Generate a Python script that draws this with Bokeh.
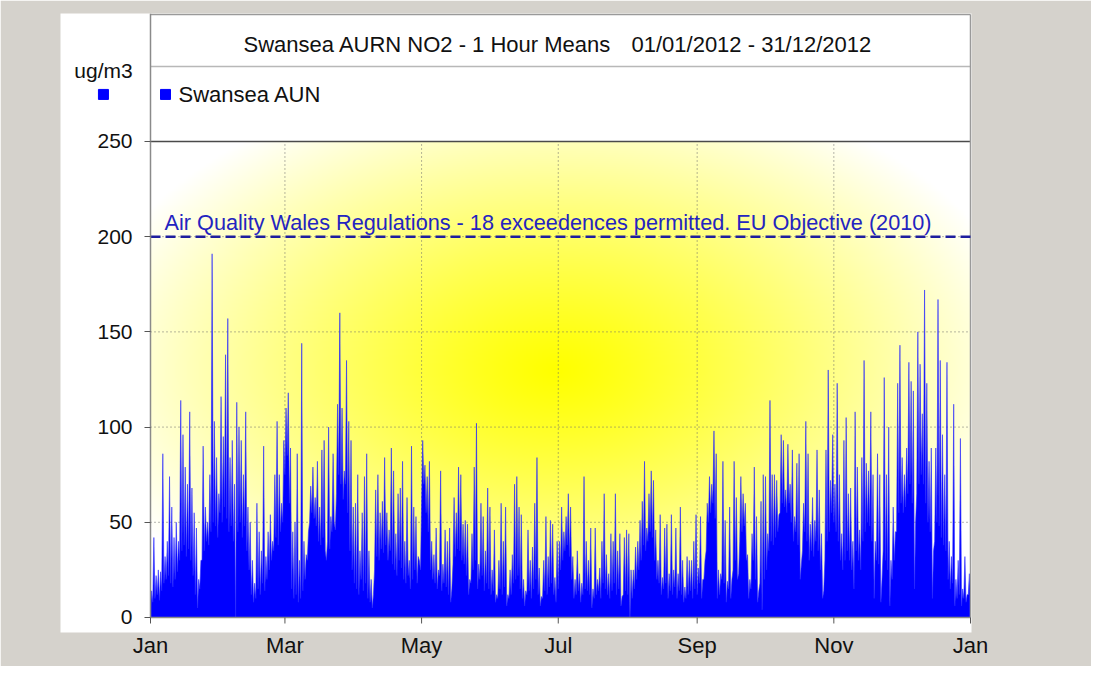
import numpy as np
from datetime import datetime, timezone
from bokeh.plotting import figure
from bokeh.models import Range1d, FixedTicker, DatetimeTickFormatter, Label, BoxAnnotation
from bokeh.embed import file_html
from bokeh.resources import INLINE

# ---------------- data ----------------
TITLE_LEFT = "Swansea AURN NO2 - 1 Hour Means"
TITLE_RIGHT = "01/01/2012 - 31/12/2012"
UNITS = "ug/m3"
SERIES_NAME = "Swansea AUN"
LIMIT_VALUE = 200
LIMIT_TEXT = "Air Quality Wales Regulations - 18 exceedences permitted. EU Objective (2010)"
Y_TICKS = [0, 50, 100, 150, 200, 250]
X_TICK_MONTHS = [(2012, 1), (2012, 3), (2012, 5), (2012, 7), (2012, 9), (2012, 11), (2013, 1)]

# daily peak hourly values (ug/m3), per month
peak_jan = [14, 42, 22, 25, 24, 86, 32, 40, 74, 58, 42, 50, 40, 114, 96, 79, 70, 108, 68, 55, 47, 20, 30, 90, 58, 50, 75, 191, 103, 84, 65]
peak_feb = [116, 95, 138, 157, 84, 93, 70, 113, 100, 93, 75, 108, 58, 50, 30, 18, 60, 45, 35, 90, 32, 45, 54, 40, 75, 103, 75, 60, 93]
peak_mar = [110, 118, 89, 45, 50, 86, 30, 144, 40, 33, 45, 69, 79, 63, 82, 58, 88, 93, 30, 100, 53, 86, 46, 112, 160, 110, 77, 135, 103, 93, 58]
peak_apr = [60, 75, 35, 55, 74, 86, 35, 20, 12, 67, 75, 55, 61, 84, 55, 46, 89, 77, 44, 65, 68, 82, 40, 63, 30, 90, 58, 53, 32, 25]
peak_may = [93, 80, 74, 82, 40, 33, 47, 25, 77, 28, 46, 40, 47, 15, 63, 55, 79, 75, 49, 51, 49, 20, 44, 79, 102, 28, 60, 53, 35, 68, 58]
peak_jun = [25, 46, 12, 30, 60, 40, 58, 12, 25, 33, 70, 74, 58, 54, 20, 14, 46, 30, 37, 60, 84, 26, 11, 30, 53, 32, 51, 49, 21, 40]
peak_jul = [40, 58, 45, 53, 65, 58, 32, 20, 35, 23, 18, 74, 40, 30, 47, 15, 47, 20, 26, 40, 65, 33, 23, 44, 40, 65, 35, 44, 11, 42, 46]
peak_aug = [44, 25, 25, 37, 40, 51, 61, 82, 47, 65, 77, 72, 46, 30, 54, 21, 47, 49, 23, 54, 25, 47, 23, 58, 30, 16, 32, 30, 30, 40, 54]
peak_sep = [26, 53, 20, 30, 60, 74, 70, 98, 86, 25, 23, 82, 51, 19, 58, 20, 82, 63, 23, 74, 65, 60, 33, 20, 44, 79, 53, 14, 61, 75]
peak_oct = [74, 44, 114, 75, 75, 72, 54, 96, 93, 67, 91, 70, 88, 53, 81, 86, 28, 60, 103, 86, 49, 63, 51, 88, 67, 44, 14, 88, 130, 72, 96]
peak_nov = [70, 123, 75, 44, 93, 105, 65, 68, 40, 108, 79, 46, 84, 135, 81, 77, 108, 75, 40, 86, 75, 20, 126, 75, 100, 30, 58, 45, 123, 143]
peak_dec = [84, 75, 89, 134, 124, 119, 50, 150, 133, 107, 172, 123, 82, 89, 35, 89, 167, 135, 96, 75, 134, 40, 32, 112, 20, 30, 94, 15, 32, 12, 23]

# daily low hourly values (ug/m3), per month
low_jan = [5, 8, 10, 12, 9, 14, 18, 20, 22, 18, 16, 20, 24, 30, 35, 38, 32, 36, 30, 22, 12, 5, 15, 30, 35, 40, 38, 45, 50, 48, 42]
low_feb = [55, 50, 58, 52, 45, 48, 40, 0, 45, 50, 42, 48, 35, 25, 12, 8, 10, 15, 12, 18, 14, 20, 25, 30, 35, 42, 38, 45, 50]
low_mar = [75, 85, 60, 15, 10, 12, 8, 10, 14, 20, 30, 50, 55, 52, 48, 40, 38, 42, 35, 40, 36, 45, 50, 65, 75, 70, 62, 70, 55, 35, 25]
low_apr = [18, 15, 12, 20, 14, 18, 10, 8, 5, 25, 32, 30, 36, 34, 38, 30, 35, 28, 25, 22, 30, 26, 20, 18, 22, 15, 20, 25, 18, 30]
low_may = [60, 70, 55, 45, 25, 20, 18, 15, 22, 14, 18, 16, 12, 8, 28, 32, 36, 35, 30, 28, 22, 12, 18, 25, 30, 15, 20, 22, 14, 18, 15]
low_jun = [12, 14, 8, 10, 15, 12, 16, 6, 10, 12, 18, 20, 22, 15, 10, 6, 12, 14, 10, 15, 20, 12, 6, 10, 14, 12, 16, 18, 12, 8]
low_jul = [15, 25, 30, 35, 38, 32, 20, 10, 12, 14, 8, 12, 15, 14, 12, 5, 10, 12, 14, 10, 18, 15, 12, 10, 14, 18, 12, 15, 6, 12, 14]
low_aug = [12, 0, 10, 15, 20, 25, 30, 38, 35, 40, 45, 42, 30, 20, 18, 12, 15, 18, 10, 14, 12, 16, 10, 14, 12, 8, 10, 12, 14, 10, 15]
low_sep = [12, 18, 10, 20, 35, 50, 55, 60, 52, 10, 12, 20, 18, 8, 15, 10, 25, 30, 20, 40, 45, 48, 30, 10, 15, 30, 20, 8, 18, 4]
low_oct = [20, 25, 35, 40, 38, 42, 45, 55, 60, 58, 55, 60, 50, 40, 45, 38, 20, 35, 45, 40, 30, 35, 32, 40, 35, 25, 10, 30, 40, 45, 55]
low_nov = [50, 45, 40, 30, 25, 30, 35, 30, 25, 15, 35, 30, 25, 40, 45, 50, 48, 40, 10, 30, 28, 8, 35, 30, 25, 6, 20, 30, 45, 55]
low_dec = [60, 55, 58, 65, 70, 60, 15, 65, 70, 75, 70, 60, 50, 45, 10, 40, 50, 48, 42, 38, 35, 20, 15, 18, 6, 10, 12, 6, 10, 8, 12]

peaks = (peak_jan + peak_feb + peak_mar + peak_apr + peak_may + peak_jun +
         peak_jul + peak_aug + peak_sep + peak_oct + peak_nov + peak_dec)
lows = (low_jan + low_feb + low_mar + low_apr + low_may + low_jun +
        low_jul + low_aug + low_sep + low_oct + low_nov + low_dec)

# ---------------- build ----------------
DAY = 86400000.0
PXV = 476.0 / 250.0            # pixels per ug/m3


def ms(y, m, d=1):
    return datetime(y, m, d, tzinfo=timezone.utc).timestamp() * 1000.0


T0 = ms(2012, 1, 1)
T1 = ms(2013, 1, 1)
PXD = 820.0 / 366.0            # pixels per day in the plot area
X_START = T0 - (90.0 / PXD) * DAY   # frame starts 90px left of Jan 1 (room for unit label)
X_END = T1 + (1.0 / PXD) * DAY
Y_TOP = 317.2                  # top of the white panel (title + legend boxes)
Y_BOT = -15.0 / PXV            # a little room below zero for the "0" tick label
PANEL_TOP = 316.7

n = min(len(peaks), len(lows))
xs, ys = [], []
for d in range(n):
    xs += [T0 + d * DAY, T0 + (d + 0.5) * DAY]
    ys += [lows[d], peaks[d]]
xs.append(T0 + n * DAY)
ys.append(lows[n - 1])

FONT = "Liberation Sans"
GREY_BG = "#d5d2cc"
BORDER = "#9a9a9a"
AXIS_GREY = "#8a8a8a"

p = figure(width=1091, height=666, x_axis_type="datetime",
           output_backend="svg", toolbar_location=None,
           x_range=Range1d(X_START, X_END), y_range=Range1d(Y_BOT, Y_TOP),
           min_border_left=60, min_border_right=120,
           min_border_top=13, min_border_bottom=34,
           background_fill_color=None, border_fill_color=GREY_BG,
           outline_line_color=None)

# white chart panel
p.add_layout(BoxAnnotation(left=T0, right=T1, bottom=0, top=PANEL_TOP,
                           fill_color="white", fill_alpha=1.0,
                           line_color=None, level="underlay"))

# yellow radial glow behind the plot area
nx, ny = 410, 238
sx = 150 + (np.arange(nx) + 0.5) * 820.0 / nx
sy = 617 - (np.arange(ny) + 0.5) * 476.0 / ny
SX, SY = np.meshgrid(sx, sy)
r = np.sqrt(((SX - 555) / 480.0) ** 2 + ((SY - 370) / 300.0) ** 2)
img = np.empty((ny, nx), dtype=np.uint32)
view = img.view(dtype=np.uint8).reshape((ny, nx, 4))
view[..., 0] = 255
view[..., 1] = 255
view[..., 2] = (255 * np.clip(r, 0, 1) ** 1.15).astype(np.uint8)
view[..., 3] = 255
p.image_rgba(image=[img], x=T0, y=0, dw=T1 - T0, dh=250)

# dotted grid
tick_ms = [ms(y, m) for (y, m) in X_TICK_MONTHS]
inner = tick_ms[1:-1]
p.segment(x0=inner, y0=[0] * len(inner), x1=inner, y1=[250] * len(inner),
          line_color="#6a6a6a", line_dash="1 3", line_width=1)
hg = [v for v in Y_TICKS if 0 < v < 250]
p.segment(x0=[T0] * len(hg), y0=hg, x1=[T1] * len(hg), y1=hg,
          line_color="#6a6a6a", line_dash="1 3", line_width=1)

# data
p.varea(x=xs, y1=[0] * len(xs), y2=ys, fill_color="#0000ff")
p.line(x=xs, y=ys, line_color="#2a2aff", line_width=0.6)

# panel borders and box separators
p.segment(x0=[T0, T0, T0], y0=[250, 289.4, PANEL_TOP], x1=[T1, T1, T1], y1=[250, 289.4, PANEL_TOP],
          line_color=["#4a4a4a", "#b8b8b8", BORDER], line_width=1.5)
p.segment(x0=[T1], y0=[0], x1=[T1], y1=[PANEL_TOP], line_color=BORDER, line_width=1.5)
# bottom axis line and month tick marks
p.segment(x0=[T0], y0=[0], x1=[T1], y1=[0], line_color=AXIS_GREY, line_width=1.5)
p.segment(x0=tick_ms, y0=[0] * len(tick_ms), x1=tick_ms, y1=[-6.0 / PXV] * len(tick_ms),
          line_color="#555555", line_width=1)
# limit value line
p.segment(x0=[T0], y0=[LIMIT_VALUE], x1=[T1], y1=[LIMIT_VALUE], line_color="#1e1e9e",
          line_width=2.5, line_dash="10 5")

# texts
p.add_layout(Label(x=T0 + 41.5 * DAY, y=300.9, text=TITLE_LEFT, text_align="left",
                   text_baseline="middle", text_font=FONT, text_font_size="22px",
                   text_color="#111111"))
p.add_layout(Label(x=T0 + 321.7 * DAY, y=300.9, text=TITLE_RIGHT, text_align="right",
                   text_baseline="middle", text_font=FONT, text_font_size="22px",
                   text_color="#111111"))
p.add_layout(Label(x=T0 + 6.26 * DAY, y=207.5, text=LIMIT_TEXT, text_align="left",
                   text_baseline="middle", text_font=FONT, text_font_size="21.7px",
                   text_color="#2424c0"))
p.add_layout(Label(x=T0 - 21.0 * DAY, y=287.3, text=UNITS, text_align="center",
                   text_baseline="middle", text_font=FONT, text_font_size="21px",
                   text_color="#111111"))
p.scatter(x=[T0 - 21.0 * DAY, T0 + 6.7 * DAY], y=[274.7, 274.7], marker="square", size=10,
          fill_color="#0000ff", line_color="#0000ff")
p.add_layout(Label(x=T0 + 12.5 * DAY, y=274.7, text=SERIES_NAME, text_align="left",
                   text_baseline="middle", text_font=FONT, text_font_size="22px",
                   text_color="#111111"))

# axes
p.xgrid.visible = False
p.ygrid.visible = False
p.yaxis.ticker = FixedTicker(ticks=Y_TICKS)
p.yaxis.fixed_location = T0
p.yaxis.bounds = (0, Y_TOP)
p.xaxis.ticker = FixedTicker(ticks=tick_ms)
p.xaxis.bounds = (T0, T1)
fmt = "%b"
p.xaxis.formatter = DatetimeTickFormatter(milliseconds=fmt, seconds=fmt, minsec=fmt,
                                          minutes=fmt, hourmin=fmt, hours=fmt,
                                          days=fmt, months=fmt, years=fmt)
for ax in (p.xaxis[0], p.yaxis[0]):
    ax.major_label_text_font = FONT
    ax.major_label_text_color = "#111111"
    ax.axis_line_color = AXIS_GREY
    ax.axis_line_width = 1.5
    ax.major_tick_line_color = "#555555"
    ax.minor_tick_line_color = None
p.yaxis.major_tick_out = 6
p.yaxis.major_tick_in = 0
p.yaxis.major_label_text_font_size = "21px"
p.yaxis.major_label_standoff = 12
# bottom axis: line and ticks drawn at y=0 above; axis only carries the month labels
p.xaxis.axis_line_color = None
p.xaxis.major_tick_line_color = None
p.xaxis.major_tick_out = 0
p.xaxis.major_tick_in = 0
p.xaxis.major_label_text_font_size = "22px"
p.xaxis.major_label_standoff = 0

open("out.html", "w").write(file_html(p, INLINE))
